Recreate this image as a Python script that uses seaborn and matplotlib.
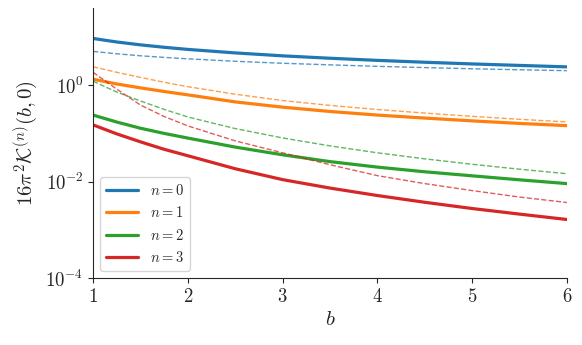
import numpy as np
import pandas as pd
import matplotlib
matplotlib.use('Agg')
import matplotlib.pyplot as plt
import seaborn as sns

# ── data (log-scale y) ─────────────────────────────────────────
b = [1.0, 1.25, 1.5, 1.75, 2.0, 2.5, 3.0, 3.5, 4.0, 4.5, 5.0, 5.5, 6.0]

full_n0 = [9.31, 7.87, 6.86, 6.11, 5.52, 4.67, 4.06, 3.62, 3.27, 2.99, 2.76, 2.57, 2.40]
full_n1 = [1.33, 1.06, 0.88, 0.74, 0.63, 0.45, 0.350, 0.285, 0.240, 0.208, 0.182, 0.161, 0.145]
full_n2 = [0.240, 0.172, 0.128, 0.100, 0.080, 0.052, 0.036, 0.026, 0.020, 0.016, 0.0132, 0.0109, 0.0091]
full_n3 = [0.150, 0.0977, 0.0668, 0.0468, 0.0344, 0.0185, 0.0110, 0.00735, 0.00515, 0.00373,
           0.00277, 0.00212, 0.00164]

approx_n0 = [5.02, 4.48, 4.07, 3.77, 3.52, 3.13, 2.85, 2.64, 2.46, 2.32, 2.19, 2.09, 2.00]
approx_n1 = [2.40, 1.85, 1.45, 1.15, 0.93, 0.65, 0.48, 0.381, 0.313, 0.264, 0.226, 0.196, 0.173]
approx_n2 = [1.21, 0.72, 0.47, 0.315, 0.219, 0.126, 0.0805, 0.0551, 0.0396, 0.0297, 0.0229,
             0.0181, 0.0146]
approx_n3 = [1.85, 0.827, 0.387, 0.224, 0.143, 0.070, 0.0396, 0.0224, 0.0133, 0.0091, 0.00652,
             0.00479, 0.00369]

labels = ['$n = 0$', '$n = 1$', '$n = 2$', '$n = 3$']
colors = ['#1f77b4', '#ff7f0e', '#2ca02c', '#d62728']

full = [full_n0, full_n1, full_n2, full_n3]
approx = [approx_n0, approx_n1, approx_n2, approx_n3]

rows = []
for lab, fv, av in zip(labels, full, approx):
    for bi, f, a in zip(b, fv, av):
        rows.append({'b': bi, 'K': f, 'n': lab, 'kind': 'full'})
        rows.append({'b': bi, 'K': a, 'n': lab, 'kind': 'approx'})
df = pd.DataFrame(rows)

# ── style ──────────────────────────────────────────────────────
sns.set_style('ticks')
plt.rcParams['font.family'] = 'serif'
plt.rcParams['font.serif'] = ['cmr10']
plt.rcParams['mathtext.fontset'] = 'cm'
plt.rcParams['axes.unicode_minus'] = False
plt.rcParams['axes.formatter.use_mathtext'] = True

palette = dict(zip(labels, colors))

fig = plt.figure(figsize=(5.82, 3.45), dpi=100)
ax = fig.add_axes([0.160, 0.194, 0.814, 0.783])

sns.lineplot(data=df[df['kind'] == 'full'], x='b', y='K', hue='n',
             palette=palette, linewidth=2.3, ax=ax)
sns.lineplot(data=df[df['kind'] == 'approx'], x='b', y='K', hue='n',
             palette=palette, linewidth=1.0, linestyle='--', alpha=0.75,
             legend=False, ax=ax)

ax.set_yscale('log')
ax.set_xlim(1, 6)
ax.set_ylim(1e-4, 40)
ax.set_yticks([1e-4, 1e-2, 1e0])
ax.yaxis.set_minor_locator(matplotlib.ticker.NullLocator())
ax.set_xticks([1, 2, 3, 4, 5, 6])
ax.tick_params(labelsize=13.5)

ax.set_xlabel('$b$', fontsize=15)
ax.set_ylabel(r'$16\pi^2\mathcal{K}^{(n)}(b,0)$', fontsize=15)

handles, _ = ax.get_legend_handles_labels()
ax.legend(handles, labels, loc='lower left', fontsize=10.5, handlelength=2.2,
          framealpha=0.8)

sns.despine(ax=ax)
fig.savefig('out.png', dpi=100)
